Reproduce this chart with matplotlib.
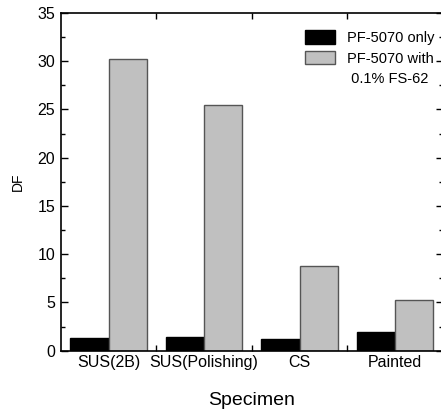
import numpy as np
import matplotlib
matplotlib.use('Agg')
import matplotlib.pyplot as plt
from matplotlib.ticker import MultipleLocator, FixedLocator

plt.rcParams['font.family'] = ['Liberation Sans', 'DejaVu Sans']

# ---- data ----
specimens = ['SUS(2B)', 'SUS(Polishing)', 'CS', 'Painted']
df_only = [1.35, 1.42, 1.2, 1.97]
df_with = [30.2, 25.5, 8.8, 5.2]
series_labels = ['PF-5070 only', 'PF-5070 with']
label_extra = ' 0.1% FS-62'

fig = plt.figure(figsize=(4.41, 4.15), dpi=100)
ax = fig.add_axes([0.138, 0.155, 0.866, 0.814])

x = np.arange(1, len(specimens) + 1)
w = 0.4
ax.bar(x - w / 2, df_only, w, color='black', edgecolor='black',
       linewidth=1.0, label=series_labels[0])
ax.bar(x + w / 2, df_with, w, color='#c0c0c0', edgecolor='#555555',
       linewidth=1.0, label=series_labels[1])

ax.set_xlim(0.5, 4.5)
ax.set_ylim(0, 35)
ax.set_xticks(x)
ax.set_xticklabels(specimens, fontsize=11.5)
ax.xaxis.set_minor_locator(FixedLocator([1.5, 2.5, 3.5]))
ax.yaxis.set_major_locator(MultipleLocator(5))
ax.yaxis.set_minor_locator(MultipleLocator(2.5))
ax.tick_params(which='both', direction='in', top=True, right=True,
               labelsize=11.5, width=1.0)
ax.tick_params(which='major', length=5, pad=4)
ax.tick_params(which='minor', length=3)
ax.tick_params(axis='x', which='major', length=0, pad=3)
ax.tick_params(axis='x', which='minor', length=4)
for s in ax.spines.values():
    s.set_linewidth(1.2)
ax.spines['right'].set_visible(False)

ax.set_ylabel('DF', fontsize=10, labelpad=9)
ax.set_xlabel('Specimen', fontsize=14, labelpad=16)

leg = ax.legend(loc='upper left', bbox_to_anchor=(305 / 441, 1 - 30 / 415),
                bbox_transform=fig.transFigure, frameon=False, borderpad=0,
                borderaxespad=0, fontsize=10.5, handlelength=2.05,
                handleheight=1.05, handletextpad=0.8, labelspacing=0.42)
fig.text(347 / 441, 1 - 79 / 415, label_extra, fontsize=10.5,
         ha='left', va='center')

fig.savefig('out.png', dpi=100)
